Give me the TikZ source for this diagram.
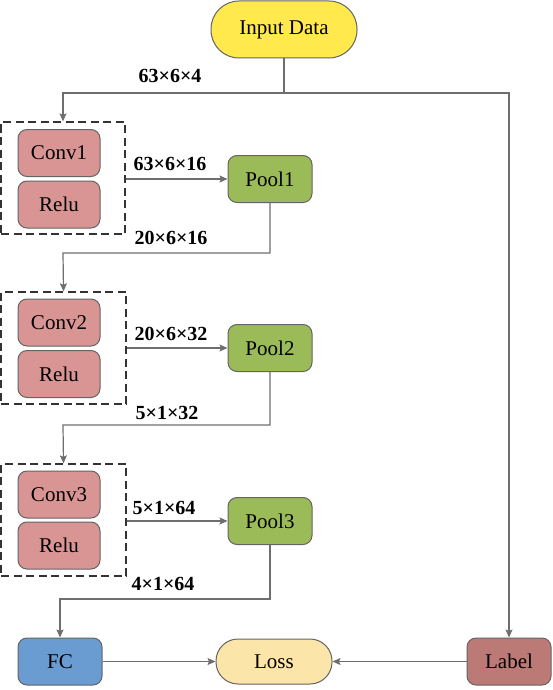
\documentclass[tikz,border=0pt]{standalone}
\usepackage{fontspec}
\setmainfont{Liberation Serif}
\usetikzlibrary{arrows.meta,positioning,calc}
\definecolor{inyellow}{RGB}{255,233,76}
\definecolor{convred}{RGB}{217,149,148}
\definecolor{poolgreen}{RGB}{155,187,89}
\definecolor{fcblue}{RGB}{106,155,209}
\definecolor{losscream}{RGB}{252,229,169}
\definecolor{labelred}{RGB}{188,122,119}
\definecolor{edgegray}{RGB}{100,100,100}
\definecolor{linegray}{RGB}{110,110,110}
\tikzset{
  blk/.style={draw=edgegray, line width=1pt, rounded corners=9pt, minimum height=47pt,
     font=\fontsize{21}{25}\selectfont, inner sep=0pt},
  convbox/.style={blk, fill=convred, minimum width=82pt, minimum height=47pt},
  poolbox/.style={blk, fill=poolgreen, minimum width=84pt},
  pill/.style={blk, rounded corners=23pt},
  dimlab/.style={font=\bfseries\fontsize{20}{24}\selectfont, inner sep=0pt},
  grp/.style={draw=black!80, line width=1.3pt, dash pattern=on 8pt off 4.5pt},
  conn/.style={draw=linegray, line width=1.2pt},
  arr/.style={conn, -{Stealth[length=8pt,width=7pt,inset=1.5pt]}}
}
\begin{document}
\begin{tikzpicture}[x=1pt,y=-1pt]
\useasboundingbox (0,0) rectangle (553,690);
% nodes
\node[pill, fill=inyellow, minimum width=146pt, minimum height=57pt, rounded corners=28pt] (input) at (284,29.5) {Input Data};

\node[grp, minimum width=124pt, minimum height=112pt, inner sep=0pt] (box1) at (63,178) {};
\node[convbox] (conv1) at (59,153) {Conv1};
\node[convbox] (relu1) at (59,204.5) {Relu};
\node[poolbox] (pool1) at (270,179) {Pool1};

\node[grp, minimum width=125pt, minimum height=112pt, inner sep=0pt] (box2) at (63.5,348) {};
\node[convbox] (conv2) at (59,322.5) {Conv2};
\node[convbox] (relu2) at (59,374) {Relu};
\node[poolbox] (pool2) at (270,348) {Pool2};

\node[grp, minimum width=125pt, minimum height=112pt, inner sep=0pt] (box3) at (63.5,520) {};
\node[convbox] (conv3) at (59,494.5) {Conv3};
\node[convbox] (relu3) at (59,545.5) {Relu};
\node[poolbox] (pool3) at (270,521) {Pool3};

\node[blk, fill=fcblue, minimum width=84pt] (fc) at (60,661.5) {FC};
\node[pill, fill=losscream, minimum width=116pt, minimum height=45pt, rounded corners=22pt] (loss) at (274,661.5) {Loss};
\node[blk, fill=labelred, minimum width=84pt] (label) at (509,661.5) {Label};

% dimension labels
\node[dimlab] (d1) at (170,76) {63×6×4};
\node[dimlab] (d2) at (170,164) {63×6×16};
\node[dimlab] (d3) at (171,238) {20×6×16};
\node[dimlab] (d4) at (171,334) {20×6×32};
\node[dimlab] (d5) at (167,413) {5×1×32};
\node[dimlab] (d6) at (164,508) {5×1×64};
\node[dimlab] (d7) at (163,584) {4×1×64};

% connectors
\coordinate (split) at (284,93);
\draw[conn] (input.south) -- (split);
\draw[arr] (split) -| (box1.north);
\draw[arr] (split) -| (label.north);

\draw[arr] (box1.east |- pool1.west) -- (pool1.west);
\draw[arr] (box2.east |- pool2.west) -- (pool2.west);
\draw[arr] (box3.east |- pool3.west) -- (pool3.west);

\coordinate (t1) at (63,253);
\coordinate (t2) at (63,425);
\coordinate (t3) at (60,599);
\draw[arr] (pool1.south) |- (t1) -- (box2.north);
\draw[arr] (pool2.south) |- (t2) -- (box3.north);
\draw[arr] (pool3.south) |- (t3) -- (fc.north);

\draw[arr] (fc.east) -- (loss.west);
\draw[arr] (label.west) -- (loss.east);
\end{tikzpicture}
\end{document}
